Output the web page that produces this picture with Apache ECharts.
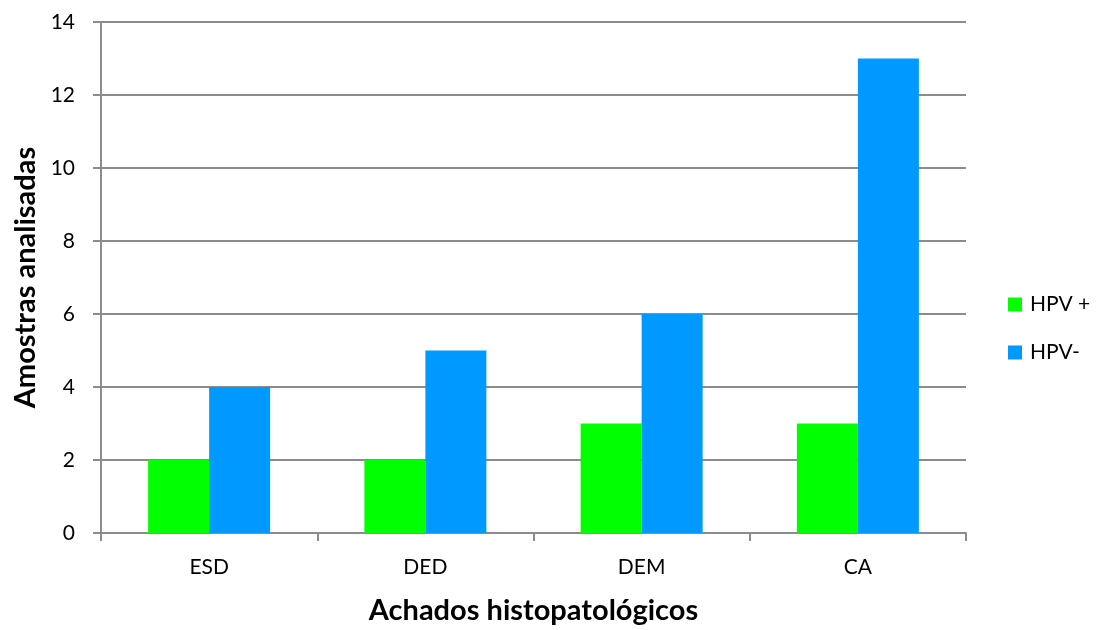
<!DOCTYPE html>
<html>
<head>
<meta charset="utf-8">
<script src="https://cdn.jsdelivr.net/npm/echarts@6/dist/echarts.min.js"></script>
<style>
  html, body { margin: 0; padding: 0; background: #fff; }
  #chart { width: 1100px; height: 630px; }
</style>
</head>
<body>
<div id="chart"></div>
<script>
// Histopathological findings and number of samples by HPV status
const categories = ['ESD', 'DED', 'DEM', 'CA'];
const hpvPositive = [2, 2, 3, 3];
const hpvNegative = [4, 5, 6, 13];
const yTicks = { min: 0, max: 14, interval: 2 };

const FONT = 'Lato, "Open Sans", sans-serif';
const GRID_COLOR = '#8c8c8c';

const chart = echarts.init(document.getElementById('chart'));
chart.setOption({
  animation: false,
  textStyle: { fontFamily: FONT },
  grid: { left: 101, right: 134, top: 22, bottom: 95 },
  legend: {
    orient: 'vertical',
    left: 1008,
    top: 294,
    padding: 0,
    itemWidth: 14,
    itemHeight: 14,
    itemGap: 27,
    icon: 'rect',
    textStyle: { fontSize: 21, color: '#000', fontFamily: FONT, padding: [0, 0, 0, 3] },
    data: ['HPV +', 'HPV-']
  },
  xAxis: {
    type: 'category',
    data: categories,
    name: 'Achados histopatológicos',
    nameLocation: 'middle',
    nameGap: 63,
    nameTextStyle: { fontSize: 29, fontWeight: 'bold', color: '#000', fontFamily: FONT },
    axisLine: { lineStyle: { color: GRID_COLOR, width: 2 } },
    axisTick: { show: true, length: 8, lineStyle: { color: GRID_COLOR, width: 2 } },
    axisLabel: { fontSize: 21, color: '#000', margin: 24, fontFamily: FONT }
  },
  yAxis: {
    type: 'value',
    min: yTicks.min,
    max: yTicks.max,
    interval: yTicks.interval,
    name: 'Amostras analisadas',
    nameLocation: 'middle',
    nameGap: 61,
    nameRotate: 90,
    nameTextStyle: { fontSize: 29, fontWeight: 'bold', color: '#000', fontFamily: FONT },
    axisLine: { show: true, lineStyle: { color: GRID_COLOR, width: 2 } },
    axisTick: { show: true, length: 8, lineStyle: { color: GRID_COLOR, width: 2 } },
    axisLabel: { fontSize: 21, color: '#000', margin: 26, fontFamily: FONT },
    splitLine: { lineStyle: { color: GRID_COLOR, width: 2 } }
  },
  series: [
    {
      name: 'HPV +',
      type: 'bar',
      data: hpvPositive,
      barWidth: 61,
      barGap: '0%',
      itemStyle: { color: '#00ff00' }
    },
    {
      name: 'HPV-',
      type: 'bar',
      data: hpvNegative,
      barWidth: 61,
      barGap: '0%',
      itemStyle: { color: '#0099ff' }
    }
  ]
});
</script>
</body>
</html>
